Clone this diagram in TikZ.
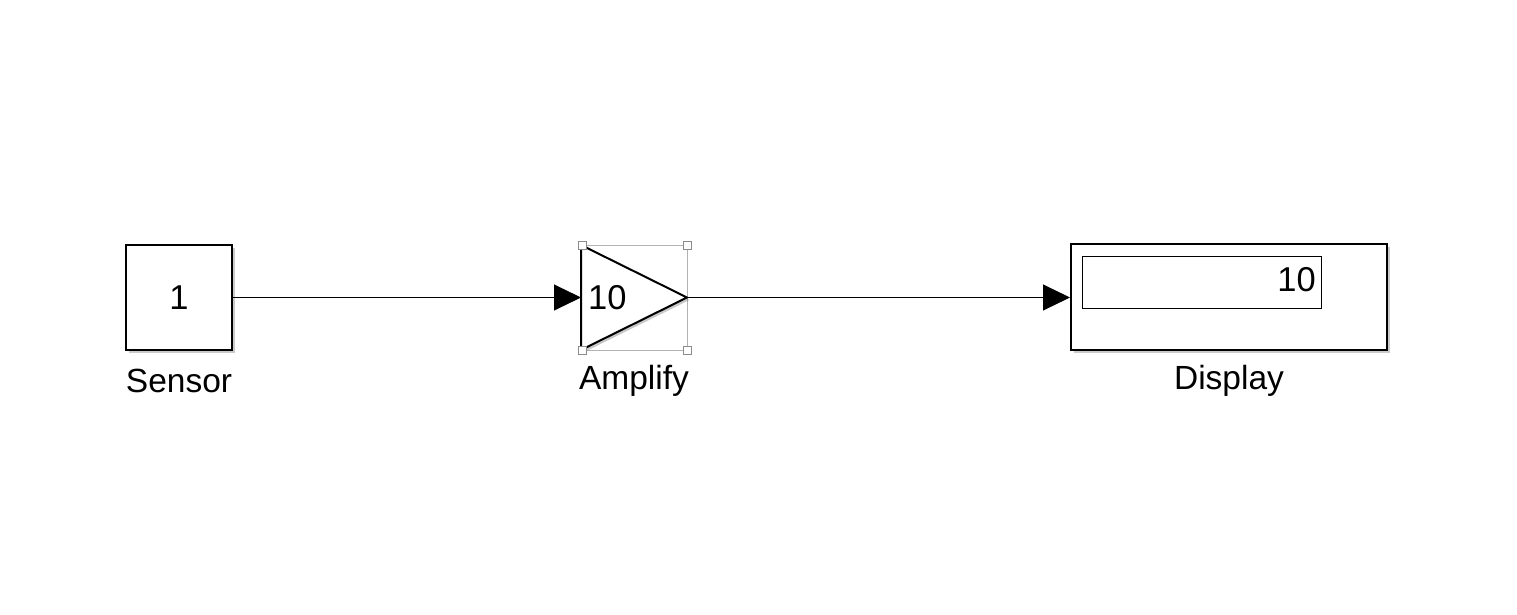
\documentclass[tikz,border=0pt]{standalone}
\usepackage{fontspec}
\setmainfont{Liberation Sans}
\usetikzlibrary{arrows.meta,shadows,calc}
\begin{document}
\begin{tikzpicture}[x=1pt,y=-1pt,
  blk/.style={draw=black,line width=2pt,fill=white,
    drop shadow={shadow xshift=2.5pt,shadow yshift=-2.5pt,opacity=0.35,fill=black!60}},
  lbl/.style={font=\fontsize{33.5}{40}\selectfont,inner sep=0pt},
  val/.style={font=\fontsize{34.5}{40}\selectfont,inner sep=0pt},
  sig/.style={line width=1pt,-{Triangle[length=27pt,width=26pt]}},
  handle/.style={draw=black!45,fill=white,line width=0.8pt,minimum size=8pt,inner sep=0pt}]
\useasboundingbox (0,0) rectangle (1517,615);
% Sensor
\node[blk,minimum width=106pt,minimum height=105pt,inner sep=0pt] (sensor) at (179,297.5) {};
\node[val] (sval) at (179,297.5) {1};
\node[lbl] (slbl) at (179,381) {Sensor};
% Amplify
\draw[black!30,line width=0.8pt] (582,245) rectangle (687,350);
\path (581,245) coordinate (t1) (687,297.5) coordinate (tip) (581,350) coordinate (t3);
\fill[black!60,opacity=0.35] ($(t1)+(2.5,2.5)$) -- ($(tip)+(2.5,2.5)$) -- ($(t3)+(2.5,2.5)$) -- cycle;
\draw[line width=2pt,fill=white,line join=miter] (t1) -- (tip) -- (t3) -- cycle;
\coordinate (ampin) at (581,297.5);
\node[handle] (h1) at (582,245) {};
\node[handle] (h2) at (687,245) {};
\node[handle] (h3) at (582,350) {};
\node[handle] (h4) at (687,350) {};
\node[val,anchor=west] (aval) at (588,297.5) {10};
\node[lbl] (albl) at (634,381) {Amplify};
% Display
\node[blk,minimum width=316pt,minimum height=106pt,inner sep=0pt] (disp) at (1229,297) {};
\node[draw=black,line width=1pt,minimum width=239pt,minimum height=52pt,inner sep=0pt] (dbox) at (1201.5,282) {};
\node[val,anchor=east] (dval) at (1316,280) {10};
\node[lbl] (dlbl) at (1229,381) {Display};
% connectors
\draw[sig] (sensor.east |- 0,297.5) -- (ampin);
\draw[sig] (tip) -- (disp.west |- tip);
\end{tikzpicture}
\end{document}
